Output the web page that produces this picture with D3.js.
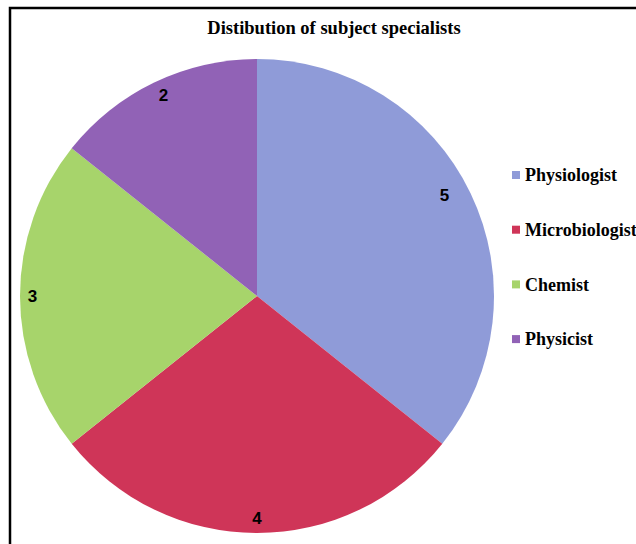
<!DOCTYPE html>
<html>
<head>
<meta charset="utf-8">
<script src="https://cdn.jsdelivr.net/npm/d3@7"></script>
<style>
  body { margin: 0; background: #fff; }
  svg { display: block; }
</style>
</head>
<body>
<div id="chart"></div>
<script>
// data
var categories = ["Physiologist", "Microbiologist", "Chemist", "Physicist"];
var counts = [5, 4, 3, 2];
var colors = ["#8f9bd8", "#cf3558", "#a7d46b", "#9162b6"];

var width = 636, height = 544;
var cx = 257, cy = 296, radius = 237;

var svg = d3.select("#chart")
  .append("svg")
  .attr("width", width)
  .attr("height", height);

// frame
svg.append("rect")
  .attr("x", 10)
  .attr("y", 8)
  .attr("width", 700)
  .attr("height", 600)
  .attr("fill", "none")
  .attr("stroke", "#000")
  .attr("stroke-width", 2.5);

svg.append("text")
  .attr("x", 334)
  .attr("y", 34)
  .attr("text-anchor", "middle")
  .style("font-family", "'Liberation Serif', serif")
  .style("font-weight", "bold")
  .style("font-size", "18.5px")
  .text("Distibution of subject specialists");

var color = d3.scaleOrdinal().domain(categories).range(colors);

var data = categories.map((c, i) => ({ name: c, value: counts[i] }));

var pie = d3.pie().sort(null).value(d => d.value);
var arc = d3.arc().innerRadius(0).outerRadius(radius);
var labelArc = d3.arc().innerRadius(radius * 0.93).outerRadius(radius * 0.93);

var g = svg.append("g").attr("transform", `translate(${cx},${cy})`);

g.selectAll("path")
  .data(pie(data))
  .enter()
  .append("path")
  .attr("d", arc)
  .attr("fill", d => color(d.data.name));

// small per-slice nudges so labels sit where the original puts them
var nudge = [[-11, -5], [0, 2], [-4, 0], [2, -2]];

g.selectAll("text.label")
  .data(pie(data))
  .enter()
  .append("text")
  .attr("class", "label")
  .attr("transform", (d, i) => {
    var c = labelArc.centroid(d);
    return `translate(${c[0] + nudge[i][0]},${c[1] + nudge[i][1]})`;
  })
  .attr("text-anchor", "middle")
  .attr("dy", "0.35em")
  .style("font-family", "'Liberation Sans', Arial, sans-serif")
  .style("font-weight", "bold")
  .style("font-size", "17px")
  .text(d => d.data.value);

// legend
var legend = svg.append("g").attr("transform", "translate(512,175)");
var rows = legend.selectAll("g")
  .data(categories)
  .enter()
  .append("g")
  .attr("transform", (d, i) => `translate(0,${i * 54.7})`);

rows.append("rect")
  .attr("x", 0)
  .attr("y", -4)
  .attr("width", 8)
  .attr("height", 8)
  .attr("fill", d => color(d));

rows.append("text")
  .attr("x", 13)
  .attr("dy", "0.35em")
  .style("font-family", "'Liberation Serif', serif")
  .style("font-weight", "bold")
  .style("font-size", "18px")
  .text(d => d);
</script>
</body>
</html>
